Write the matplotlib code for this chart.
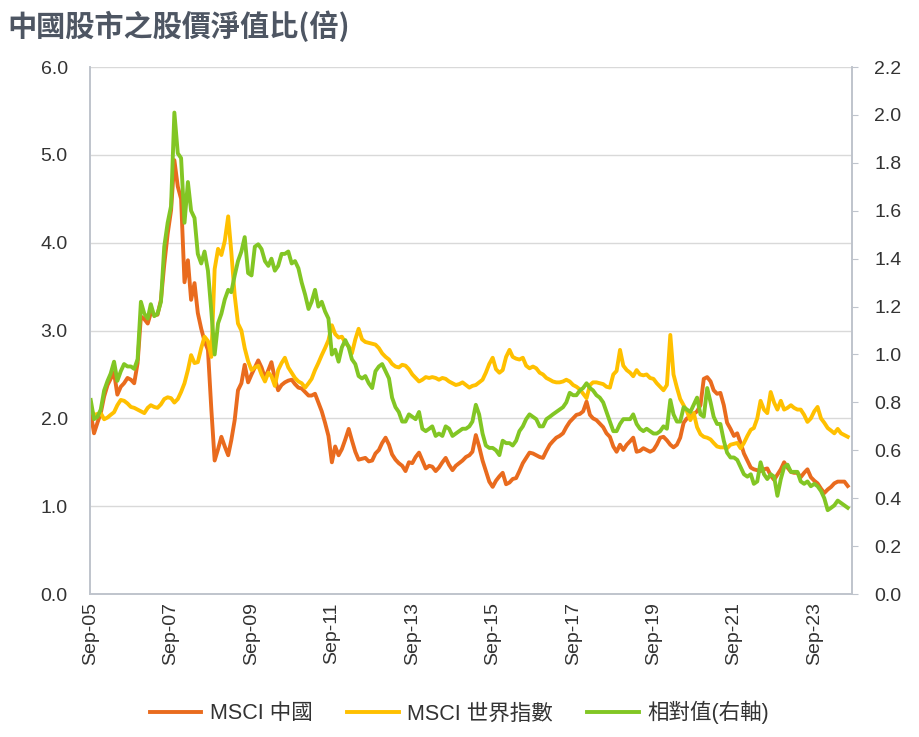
import matplotlib
matplotlib.use("Agg")
import matplotlib.pyplot as plt
import matplotlib.dates as mdates
import pandas as pd

plt.rcParams['font.family'] = ['Liberation Sans', 'Noto Sans CJK TC', 'DejaVu Sans']

# monthly, Sep 2005 .. Jul 2024
dates = pd.date_range('2005-09-01', periods=227, freq='MS')
tick_dates = pd.to_datetime(['2005-09-01', '2007-09-01', '2009-09-01', '2011-09-01', '2013-09-01',
                             '2015-09-01', '2017-09-01', '2019-09-01', '2021-09-01', '2023-09-01'])

msci_china = [
    2.06, 1.83, 1.95, 2.06, 2.25, 2.38, 2.45, 2.52, 2.27, 2.36,
    2.40, 2.46, 2.44, 2.40, 2.63, 3.16, 3.13, 3.08, 3.20, 3.18,
    3.18, 3.35, 3.75, 4.10, 4.37, 4.94, 4.64, 4.50, 3.55, 3.80,
    3.35, 3.54, 3.20, 3.02, 2.88, 2.78, 2.10, 1.52, 1.65, 1.79,
    1.68, 1.58, 1.75, 1.98, 2.32, 2.40, 2.61, 2.41, 2.50, 2.58,
    2.66, 2.58, 2.46, 2.55, 2.64, 2.45, 2.32, 2.38, 2.41, 2.43,
    2.44, 2.39, 2.35, 2.34, 2.30, 2.26, 2.26, 2.28, 2.18, 2.08,
    1.95, 1.80, 1.50, 1.68, 1.58, 1.65, 1.76, 1.88, 1.75, 1.62,
    1.53, 1.54, 1.55, 1.51, 1.52, 1.60, 1.64, 1.72, 1.78, 1.70,
    1.59, 1.53, 1.49, 1.46, 1.40, 1.50, 1.49, 1.56, 1.61, 1.52,
    1.43, 1.46, 1.45, 1.40, 1.44, 1.50, 1.55, 1.47, 1.41, 1.46,
    1.49, 1.52, 1.56, 1.58, 1.62, 1.81, 1.68, 1.52, 1.40, 1.28,
    1.22, 1.29, 1.34, 1.38, 1.25, 1.27, 1.31, 1.32, 1.40, 1.49,
    1.55, 1.61, 1.60, 1.58, 1.56, 1.55, 1.63, 1.70, 1.74, 1.78,
    1.80, 1.83, 1.90, 1.96, 2.00, 2.04, 2.05, 2.08, 2.19, 2.04,
    2.00, 1.98, 1.94, 1.90, 1.83, 1.79, 1.68, 1.62, 1.70, 1.64,
    1.70, 1.74, 1.78, 1.62, 1.63, 1.66, 1.64, 1.62, 1.64, 1.70,
    1.78, 1.79, 1.75, 1.70, 1.67, 1.70, 1.78, 1.95, 2.00, 2.02,
    2.05, 2.08, 2.15, 2.45, 2.47, 2.42, 2.32, 2.28, 2.29, 2.15,
    1.95, 1.88, 1.80, 1.83, 1.72, 1.60, 1.52, 1.44, 1.42, 1.41,
    1.40, 1.42, 1.43, 1.35, 1.30, 1.36, 1.42, 1.50, 1.44, 1.39,
    1.38, 1.38, 1.33, 1.38, 1.42, 1.33, 1.29, 1.26, 1.20, 1.15,
    1.19, 1.22, 1.26, 1.28, 1.28, 1.28, 1.23,
]

msci_world = [
    2.10, 2.04, 2.05, 2.06, 1.99, 2.01, 2.04, 2.07, 2.15, 2.21,
    2.20, 2.17, 2.13, 2.12, 2.10, 2.08, 2.06, 2.12, 2.15, 2.13,
    2.12, 2.16, 2.22, 2.24, 2.23, 2.18, 2.22, 2.30, 2.40, 2.55,
    2.72, 2.63, 2.64, 2.80, 2.93, 2.88, 2.70, 3.70, 3.93, 3.86,
    4.02, 4.30, 3.90, 3.40, 3.08, 3.00, 2.80, 2.65, 2.55, 2.58,
    2.60, 2.50, 2.42, 2.52, 2.48, 2.37, 2.55, 2.63, 2.69, 2.58,
    2.52, 2.46, 2.42, 2.40, 2.35, 2.40, 2.45, 2.55, 2.63, 2.72,
    2.80, 2.89, 3.06, 2.96, 2.92, 2.93, 2.86, 2.82, 2.74, 2.90,
    3.02, 2.90, 2.87, 2.86, 2.85, 2.84, 2.80, 2.74, 2.70, 2.67,
    2.62, 2.59, 2.58, 2.61, 2.60, 2.56, 2.50, 2.46, 2.42, 2.44,
    2.47, 2.46, 2.47, 2.46, 2.44, 2.46, 2.45, 2.42, 2.40, 2.38,
    2.39, 2.41, 2.38, 2.35, 2.37, 2.38, 2.41, 2.44, 2.52, 2.62,
    2.69, 2.56, 2.52, 2.55, 2.70, 2.78, 2.70, 2.68, 2.67, 2.69,
    2.60, 2.57, 2.59, 2.57, 2.52, 2.50, 2.46, 2.44, 2.42, 2.41,
    2.41, 2.42, 2.44, 2.42, 2.38, 2.36, 2.33, 2.28, 2.23, 2.38,
    2.41, 2.41, 2.40, 2.39, 2.36, 2.35, 2.50, 2.54, 2.78, 2.60,
    2.55, 2.52, 2.48, 2.55, 2.50, 2.49, 2.50, 2.46, 2.45, 2.40,
    2.36, 2.32, 2.38, 2.95, 2.50, 2.35, 2.22, 2.15, 2.08, 1.98,
    2.06, 1.90, 1.82, 1.79, 1.78, 1.76, 1.72, 1.68, 1.67, 1.67,
    1.66, 1.70, 1.71, 1.72, 1.66, 1.72, 1.80, 1.87, 1.89, 2.00,
    2.20, 2.10, 2.06, 2.30, 2.18, 2.10, 2.20, 2.10, 2.12, 2.15,
    2.12, 2.10, 2.10, 2.04, 1.96, 2.00, 2.08, 2.13, 2.00, 1.95,
    1.89, 1.86, 1.83, 1.88, 1.83, 1.81, 1.79,
]

relative = [
    0.81, 0.73, 0.74, 0.77, 0.85, 0.89, 0.92, 0.97, 0.89, 0.93,
    0.96, 0.95, 0.95, 0.94, 0.98, 1.22, 1.17, 1.15, 1.21, 1.16,
    1.17, 1.22, 1.45, 1.55, 1.62, 2.01, 1.84, 1.82, 1.55, 1.72,
    1.60, 1.57, 1.42, 1.38, 1.43, 1.35, 1.18, 1.00, 1.13, 1.17,
    1.23, 1.27, 1.26, 1.33, 1.39, 1.43, 1.49, 1.34, 1.33, 1.45,
    1.46, 1.44, 1.39, 1.37, 1.40, 1.35, 1.37, 1.42, 1.42, 1.43,
    1.38, 1.39, 1.36, 1.30, 1.25, 1.19, 1.22, 1.27, 1.20, 1.22,
    1.18, 1.15, 1.00, 1.02, 0.97, 1.03, 1.06, 1.03, 0.98, 0.96,
    0.91, 0.90, 0.91, 0.88, 0.86, 0.93, 0.95, 0.96, 0.93, 0.90,
    0.82, 0.78, 0.76, 0.72, 0.72, 0.75, 0.74, 0.73, 0.76, 0.69,
    0.68, 0.69, 0.70, 0.66, 0.67, 0.66, 0.70, 0.69, 0.66, 0.67,
    0.68, 0.69, 0.69, 0.70, 0.72, 0.79, 0.75, 0.67, 0.62, 0.61,
    0.61, 0.60, 0.58, 0.64, 0.63, 0.63, 0.62, 0.64, 0.68, 0.70,
    0.73, 0.75, 0.74, 0.73, 0.70, 0.70, 0.73, 0.74, 0.75, 0.76,
    0.77, 0.78, 0.80, 0.84, 0.83, 0.83, 0.85, 0.86, 0.88, 0.86,
    0.85, 0.83, 0.82, 0.80, 0.76, 0.72, 0.68, 0.68, 0.71, 0.73,
    0.73, 0.73, 0.75, 0.71, 0.69, 0.68, 0.69, 0.68, 0.67, 0.67,
    0.68, 0.70, 0.69, 0.81, 0.75, 0.72, 0.72, 0.78, 0.77, 0.76,
    0.79, 0.82, 0.75, 0.74, 0.86, 0.80, 0.74, 0.71, 0.71, 0.64,
    0.59, 0.57, 0.57, 0.56, 0.53, 0.50, 0.49, 0.50, 0.46, 0.47,
    0.55, 0.50, 0.48, 0.50, 0.49, 0.41, 0.48, 0.53, 0.54, 0.51,
    0.51, 0.51, 0.47, 0.46, 0.47, 0.45, 0.46, 0.45, 0.43, 0.40,
    0.35, 0.36, 0.37, 0.39, 0.38, 0.37, 0.36,
]

labels = ['MSCI 中國', 'MSCI 世界指數', '相對值(右軸)']
colors = ['#E96B1E', '#FFC000', '#82C624']
text_col = '#333333'
axis_col = '#BFC4CC'

fig = plt.figure(figsize=(9.19, 7.37), dpi=100)
ax = fig.add_axes([0.098, 0.194, 0.829, 0.715])
ax2 = ax.twinx()

l1, = ax.plot(dates, msci_china, color=colors[0], lw=2.8, label=labels[0])
l2, = ax.plot(dates, msci_world, color=colors[1], lw=2.8, label=labels[1])
l3, = ax2.plot(dates, relative, color=colors[2], lw=2.8, label=labels[2])

ax.set_ylim(0, 6)
ax.set_yticks([0, 1, 2, 3, 4, 5, 6])
ax.set_yticklabels(['%.1f' % v for v in range(7)])
ax2.set_ylim(0, 2.2)
ax2.set_yticks([i * 0.2 for i in range(12)])
ax2.set_yticklabels(['%.1f' % (i * 0.2) for i in range(12)])

ax.set_xlim(pd.Timestamp('2005-08-26'), pd.Timestamp('2024-08-08'))
ax.set_xticks(tick_dates)
ax.xaxis.set_major_formatter(mdates.DateFormatter('%b-%y'))
for lab in ax.get_xticklabels():
    lab.set_rotation(90)

ax.grid(axis='y', color='#D9D9D9', lw=1)
ax.set_axisbelow(True)
for a in (ax, ax2):
    a.spines['top'].set_visible(False)
    for s in ('left', 'right', 'bottom'):
        a.spines[s].set_color(axis_col)
        a.spines[s].set_linewidth(1.2)

ax.tick_params(axis='y', length=0, labelsize=14, labelcolor=text_col, pad=16)
ax.tick_params(axis='x', length=0, labelsize=14, labelcolor=text_col, pad=6)
ax2.tick_params(axis='y', length=4, color=axis_col, labelsize=14, labelcolor=text_col, pad=12)

fig.text(0.008, 0.965, '中國股市之股價淨值比(倍)', family=['Noto Sans CJK TC'],
         fontsize=21, fontweight='bold', color='#4E5663', va='center', ha='left')

fig.legend(handles=[l1, l2, l3], loc='center', bbox_to_anchor=(0.5, 0.033), ncol=3,
           frameon=False, fontsize=15.5, handlelength=2.4, handletextpad=0.4,
           columnspacing=1.6, labelcolor=text_col)

fig.savefig('out.png', dpi=100)
